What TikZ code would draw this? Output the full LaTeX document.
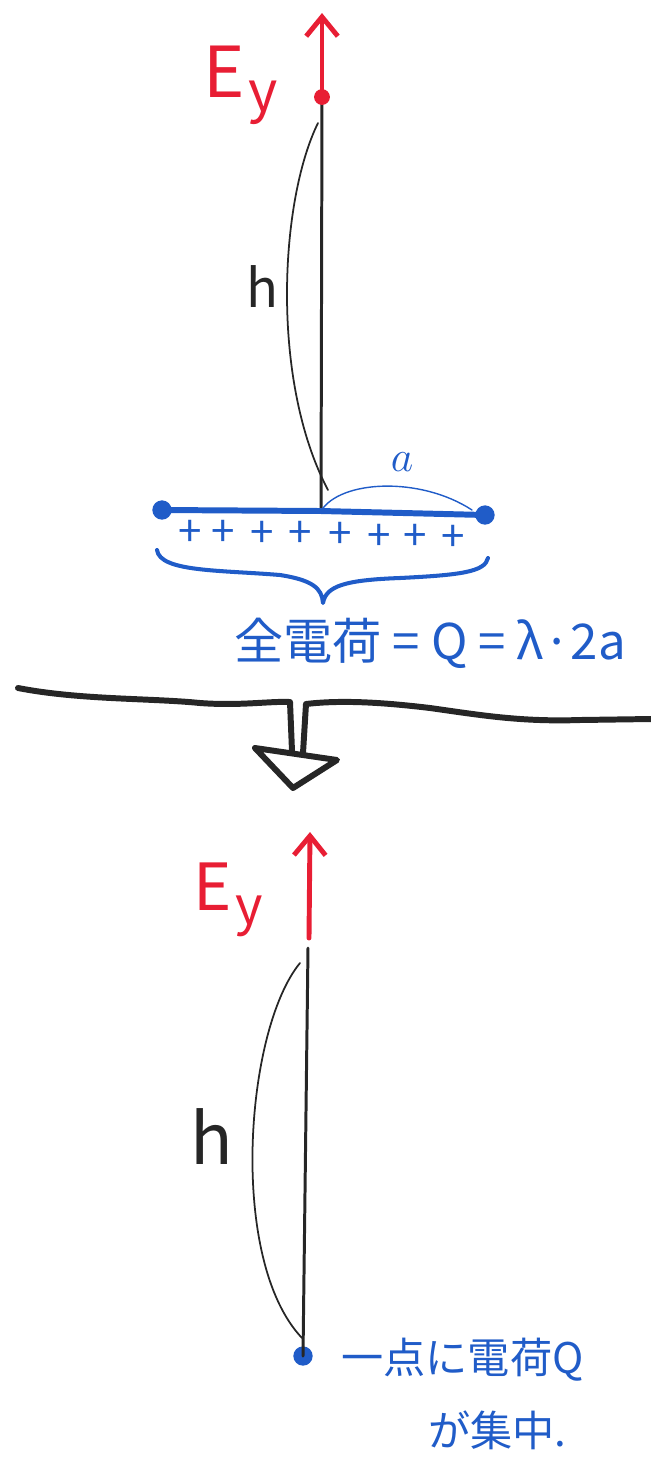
\documentclass[tikz,border=0pt]{standalone}
\usepackage{fontspec}
\setmainfont{DejaVu Sans}
\newfontfamily\jpfont{Noto Sans CJK JP}
\usetikzlibrary{arrows.meta}
\definecolor{penred}{RGB}{232,30,52}
\definecolor{penblue}{RGB}{32,92,200}
\definecolor{penblack}{RGB}{38,38,38}

\begin{document}
\begin{tikzpicture}[x=0.02cm, y=-0.02cm, line cap=round, line join=round,
  field/.style={penred, line width=2.8pt, -{Straight Barb[length=11pt,width=18pt,line width=2.8pt]}},
  stick/.style={penblack, line width=1.7pt},
  span/.style={penblack, line width=1pt},
  rod/.style={penblue, line width=3.4pt},
  dot/.style={circle, fill, inner sep=0pt, minimum size=#1},
  lbl/.style={inner sep=0pt, font=\jpfont\fontsize{#1}{#1}\selectfont}]
  \useasboundingbox (0,0) rectangle (651,1465);

  % Upper: line charge of length 2a
  \coordinate (tipU) at (322,13);
  \coordinate (rodC) at (321,511);
  \draw[stick] (322,100) -- (rodC);
  \draw[field] (322,97) -- (tipU);
  \node[dot=9pt, penred] (fieldU) at (322,97) {};
  \node[lbl=40, penred, anchor=base west] (EyU) at (203,97)
    {E\kern2pt\raisebox{-8pt}{\fontsize{32}{32}\selectfont y}};
  % h
  \coordinate (hTopU) at (318,123);
  \coordinate (hBotU) at (328,490);
  \draw[span] (hTopU) .. controls (280,200) and (270,380) .. (hBotU);
  \node[lbl=30, penblack] (hU) at (262,287) {h};
  % rod
  \node[dot=11pt, penblue] (rodL) at (162,510) {};
  \node[dot=11pt, penblue] (rodR) at (485,515) {};
  \draw[rod] (rodL.center) -- (rodC) -- (rodR.center);
  \draw[penblue, line width=0.8pt] (rodC) .. controls (340,480) and (420,476) .. (472,510);
  \node[penblue, inner sep=0pt, font=\fontsize{30}{30}\selectfont] (aLbl) at (402,462) {$a$};
  \foreach \i/\x/\y in {1/190/533,2/223/533,3/262/534,4/300/534,5/340/535,6/379/537,7/415/537,8/453/538}
    \node[lbl=24, penblue] (plus\i) at (\x,\y) {+};
  % brace
  \coordinate (brL) at (157,550);
  \coordinate (brTip) at (323,603);
  \coordinate (brR) at (488,558);
  \draw[penblue, line width=2.3pt] (brL) .. controls (160,572) and (220,570) .. (280,575)
    .. controls (312,580) and (322,588) .. (brTip)
    .. controls (326,586) and (345,580) .. (400,578)
    .. controls (460,575) and (485,572) .. (brR);
  \node[lbl=28, penblue] (total) at (430,643) {全電荷 = Q = λ·2a};

  % Divider and hollow arrow
  \coordinate (divL) at (18,688);
  \coordinate (divR) at (651,719);
  \coordinate (stemL) at (292,751);
  \coordinate (stemR) at (303,753);
  \draw[penblack, line width=3.4pt] (divL) .. controls (80,700) and (150,698) .. (200,703)
    .. controls (240,706) and (270,701) .. (290,702) -- (stemL);
  \draw[penblack, line width=3.4pt] (stemR) -- (306,704)
    .. controls (340,700) and (380,702) .. (430,708)
    .. controls (480,715) and (520,722) .. (580,720) -- (divR);
  \draw[penblack, line width=3.4pt] (255,748) -- (337,760) -- (293,788) -- cycle;

  % Lower: all the charge at one point
  \coordinate (tipD) at (310,832);
  \coordinate (srcTop) at (308,948);
  \draw[field] (309,938) -- (tipD);
  \node[lbl=37, penred, anchor=base west] (EyD) at (193,910)
    {E\kern2pt\raisebox{-8pt}{\fontsize{30}{30}\selectfont y}};
  \node[dot=11pt, penblue] (src) at (303,1356) {};
  \draw[stick] (srcTop) -- (src.center);
  \coordinate (hTopD) at (300,963);
  \coordinate (hBotD) at (302,1338);
  \draw[span] (hTopD) .. controls (245,1030) and (228,1260) .. (hBotD);
  \node[lbl=40, penblack] (hD) at (212,1137) {h};
  \node[lbl=24, penblue, anchor=west] (note1) at (341,1360) {一点に電荷Q};
  \node[lbl=24, penblue, anchor=west] (note2) at (428,1430) {が集中.};
\end{tikzpicture}
\end{document}
